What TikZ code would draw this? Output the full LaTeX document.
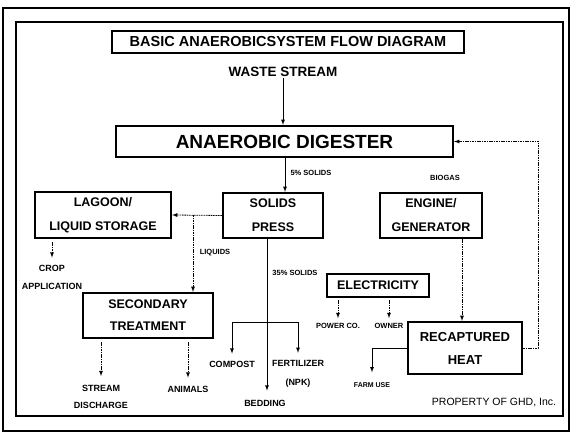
\documentclass[tikz,border=0pt]{standalone}
\usepackage{fontspec}
\setmainfont{Liberation Sans}
\usetikzlibrary{arrows}
\usetikzlibrary{math}

\tikzset{
  box/.style={draw,line width=2.2pt,inner sep=0pt,align=center,font=\bfseries\fontsize{12.5}{24}\selectfont},
  lbl/.style={inner sep=1pt,align=center,font=\bfseries\fontsize{7.5}{9}\selectfont},
  biglbl/.style={inner sep=1pt,align=center,font=\bfseries\fontsize{9}{17}\selectfont},
  flow/.style={-latex,line width=0.8pt},
  dotflow/.style={-latex,line width=0.8pt,dash pattern=on 1.6pt off 0.8pt},
}

\begin{document}
\begin{tikzpicture}[x=1pt,y=-1pt]
\tikzmath{
\fw=2.5;
\ow=1.2;
}
\useasboundingbox (0,0) rectangle (571,435);

% frames
\draw[line width=\ow pt] (3,8) rectangle (569,431);
\draw[line width=\fw pt] (16,22) rectangle (563,416);

\node[box,line width=2pt,minimum width=352pt,minimum height=22pt,font=\bfseries\fontsize{14.5}{16}\selectfont] (title) at (288,42) {BASIC ANAEROBICSYSTEM FLOW DIAGRAM};
\node[inner sep=1pt,font=\bfseries\fontsize{13.5}{15}\selectfont] (waste) at (283,72) {WASTE STREAM};
\node[box,minimum width=337pt,minimum height=31pt,font=\bfseries\fontsize{19}{21}\selectfont] (digester) at (284.5,141.5) {ANAEROBIC DIGESTER};

\node[box,minimum width=136pt,minimum height=46pt] (lagoon) at (103,215) {LAGOON/\\LIQUID STORAGE};
\node[box,minimum width=100pt,minimum height=45pt] (press) at (273,215.5) {SOLIDS\\PRESS};
\node[box,minimum width=102pt,minimum height=45pt] (engine) at (431,215.5) {ENGINE/\\GENERATOR};
\node[box,minimum width=130pt,minimum height=45pt,font=\bfseries\fontsize{12.5}{22}\selectfont] (secondary) at (148,315.5) {SECONDARY\\TREATMENT};
\node[box,minimum width=102pt,minimum height=23pt] (elec) at (378,285.5) {ELECTRICITY};
\node[box,minimum width=114pt,minimum height=52pt,font=\bfseries\fontsize{13}{23}\selectfont] (recap) at (465,348) {RECAPTURED\\HEAT};

\node[lbl] (five) at (311,173) {5\% SOLIDS};
\node[lbl] (biogas) at (445,178) {BIOGAS};
\node[lbl] (liquids) at (215,253) {LIQUIDS};
\node[lbl] (thirty) at (295,273) {35\% SOLIDS};
\node[lbl] (power) at (338,326) {POWER CO.};
\node[lbl] (owner) at (389,326) {OWNER};
\node[lbl,font=\bfseries\fontsize{7}{9}\selectfont] (farm) at (372,385) {FARM USE};

\node[biglbl,font=\bfseries\fontsize{9}{18}\selectfont] (crop) at (52,277) {CROP\\APPLICATION};
\node[biglbl] (stream) at (101,397) {STREAM\\DISCHARGE};
\node[biglbl] (animals) at (188,389) {ANIMALS};
\node[biglbl] (compost) at (232,364) {COMPOST};
\node[biglbl,font=\bfseries\fontsize{9}{19}\selectfont] (fert) at (298,373.5) {FERTILIZER\\(NPK)};
\node[biglbl] (bedding) at (265,403) {BEDDING};

\node[inner sep=1pt,font=\fontsize{10.5}{12}\selectfont] (ghd) at (494,403) {PROPERTY OF GHD, Inc.};

\coordinate (pressin) at (285,0);
\coordinate (liqx) at (193,0);
\coordinate (beddx) at (267,0);
\coordinate (fork) at (267,322);
\coordinate (heatx) at (462,0);
\coordinate (fbx) at (538,0);

\draw[flow] (waste) -- (waste.south |- digester.north);
\draw[flow] (digester.south -| pressin) -- (press.north -| pressin);
\draw[dotflow] (press.west) -- (lagoon.east);
\draw[dotflow] (press.west -| liqx) -- (secondary.north -| liqx);
\draw[dotflow,shorten <=3pt,shorten >=6pt] (lagoon.south -| crop) -- (crop.north);

\draw[dotflow,shorten <=3pt,shorten >=8pt] (secondary.south -| stream) -- (stream.north);
\draw[dotflow,shorten <=3pt,shorten >=7pt] (secondary.south -| animals) -- (animals.north);

\draw[flow,shorten >=8pt] (press.south -| beddx) -- (bedding.north -| beddx);
\draw[flow,shorten >=6pt] (fork) -| (compost.north);
\draw[flow,shorten >=6pt] (fork) -| (fert.north);

\draw[dotflow,shorten <=2pt,shorten >=4pt] (elec.south -| power) -- (power.north);
\draw[dotflow,shorten <=2pt,shorten >=4pt] (elec.south -| owner) -- (owner.north);

%%%%%%%%%%   heat loop
\draw[dotflow] (engine.south -| heatx) -- (recap.north -| heatx);
\draw[flow,shorten >=9pt] (recap.west) -| (farm.north);
\draw[dotflow] (recap.east) -- (recap.east -| fbx) |- (digester.east);
\end{tikzpicture}
\end{document}
